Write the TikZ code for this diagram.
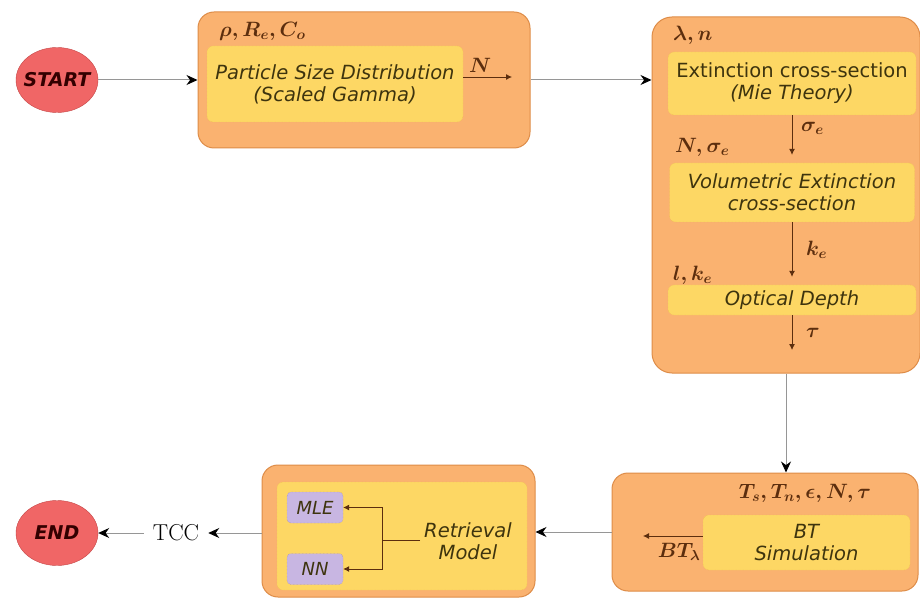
\documentclass[tikz,border=0pt]{standalone}
\usepackage{fontspec}
\setsansfont{DejaVu Sans}
\usetikzlibrary{positioning,arrows.meta,shapes.geometric}
\definecolor{flowOrange}{RGB}{250,178,112}
\definecolor{flowOrangeDark}{RGB}{222,140,72}
\definecolor{flowYellow}{RGB}{253,215,100}
\definecolor{flowYellowDark}{RGB}{236,186,74}
\definecolor{flowLilac}{RGB}{200,182,226}
\definecolor{flowLilacDark}{RGB}{150,128,184}
\definecolor{flowRed}{RGB}{240,102,102}
\definecolor{flowRedDark}{RGB}{196,70,70}
\definecolor{flowInk}{RGB}{62,52,14}
\definecolor{flowBrown}{RGB}{92,46,14}
\definecolor{flowGrey}{RGB}{150,150,150}

\begin{document}
\begin{tikzpicture}[x=1pt, y=-1pt,
    outerbox/.style={draw=flowOrangeDark, fill=flowOrange, rounded corners=16pt, line width=1pt},
    innerbox/.style={draw=flowYellowDark, densely dotted, fill=flowYellow, rounded corners=6pt,
      align=center, inner sep=2pt, text=flowInk, font=\sffamily\itshape\fontsize{19.5}{22}\selectfont},
    algbox/.style={draw=flowLilacDark, densely dotted, fill=flowLilac, rounded corners=4pt,
      minimum width=56pt, minimum height=31pt, text=flowInk, font=\sffamily\itshape\fontsize{18}{20}\selectfont},
    termnode/.style={ellipse, draw=flowRedDark, fill=flowRed, minimum width=82pt, minimum height=65pt,
      inner xsep=-6pt, inner ysep=0pt, text=black!80!red, font=\sffamily\bfseries\itshape\fontsize{19}{22}\selectfont},
    varlabel/.style={text=flowBrown, inner sep=0pt, font=\fontsize{20}{22}\selectfont\boldmath},
    flowarrow/.style={draw=flowGrey, line width=1pt, -{Stealth[length=11pt,width=10pt,black]}},
    subarrow/.style={draw=flowBrown, line width=0.8pt, -{Latex[length=6pt,width=6pt]}}
  ]
    \useasboundingbox (0,0) rectangle (920,601);

    % start and particle size distribution
    \node[termnode] (start) at (57,80) {START};
    \node[outerbox, minimum width=332pt, minimum height=136pt] (psdbox) at (364,80) {};
    \node[innerbox, minimum width=256pt, minimum height=76pt] (psd) at (335,84) {Particle Size Distribution\\(Scaled Gamma)};
    \node[varlabel, anchor=west] (psdin) at (219,31) {$\rho, R_e, C_o$};
    \coordinate (nout) at (512,77);

    % optical properties
    \node[outerbox, rounded corners=20pt, minimum width=268pt, minimum height=356pt] (optbox) at (786,195) {};
    \node[varlabel, anchor=west] (extin) at (673,35) {$\lambda, n$};
    \node[innerbox, minimum width=248pt, minimum height=63pt] (ext) at (792,83.5) {{\upshape Extinction cross-section}\\(Mie Theory)};
    \node[innerbox, minimum width=245pt, minimum height=59pt] (vol) at (792,192.5) {Volumetric Extinction\\cross-section};
    \node[innerbox, minimum width=248pt, minimum height=30pt] (opt) at (792,300) {Optical Depth};
    \node[varlabel, anchor=west] (sigout) at (801,128) {$\sigma_e$};
    \node[varlabel, anchor=west] (volin) at (675,147) {$N, \sigma_e$};
    \node[varlabel, anchor=west] (kout) at (806,250) {$k_e$};
    \node[varlabel, anchor=west] (optin) at (673,275) {$l, k_e$};
    \node[varlabel, anchor=west] (tauout) at (806,333) {$\tau$};
    \coordinate (tauend) at (792,350);

    % brightness temperature
    \node[outerbox, minimum width=306pt, minimum height=118pt] (btbox) at (765,532) {};
    \node[innerbox, minimum width=207pt, minimum height=55pt] (bt) at (806.5,542.5) {BT\\Simulation};
    \node[varlabel] (btin) at (805,493) {$T_s, T_n, \epsilon, N, \tau$};
    \node[varlabel] (btlab) at (679,552) {$BT_\lambda$};
    \coordinate (btout) at (643,536);

    % retrieval
    \node[outerbox, minimum width=273pt, minimum height=132pt] (retbox) at (398.5,531) {};
    \node[innerbox, minimum width=250pt, minimum height=108pt] (retr) at (402,536) {};
    \node[innerbox, draw=none, fill=none, inner sep=4pt] (rtext) at (468,541) {Retrieval\\Model};
    \node[algbox] (mle) at (315,507.5) {MLE};
    \node[algbox] (nn) at (315,569) {NN};
    \coordinate (fork) at (382,540);

    % end
    \node[font=\fontsize{23}{25}\selectfont, inner xsep=9pt, inner ysep=0pt] (tcc) at (176,533) {TCC};
    \node[termnode] (stop) at (57,533) {END};

    \draw[flowarrow] (start) -- (psdbox);
    \draw[subarrow] (psd.east |- nout) -- (nout) node[varlabel, pos=0.35, above=4pt] {$N$};
    \draw[flowarrow] (psdbox.east) -- (psdbox.east -| optbox.west);
    \draw[subarrow] (ext.south) -- ([yshift=8pt]vol.north);
    \draw[subarrow] (vol.south) -- ([yshift=8pt]opt.north);
    \draw[subarrow] (opt.south) -- (tauend);
    \draw[flowarrow] (optbox.south) -- (optbox.south |- btbox.north);
    \draw[subarrow] (bt.west |- btout) -- (btout);
    \draw[flowarrow] (btbox.west) -- (btbox.west -| retbox.east);
    \draw[draw=flowBrown, line width=0.8pt] (rtext.west |- fork) -- (fork);
    \draw[subarrow] (fork) |- (mle.east);
    \draw[subarrow] (fork) |- (nn.east);
    \draw[flowarrow] (retbox.west |- tcc.east) -- (tcc.east);
    \draw[flowarrow] (tcc) -- (stop);
  \end{tikzpicture}
\end{document}
